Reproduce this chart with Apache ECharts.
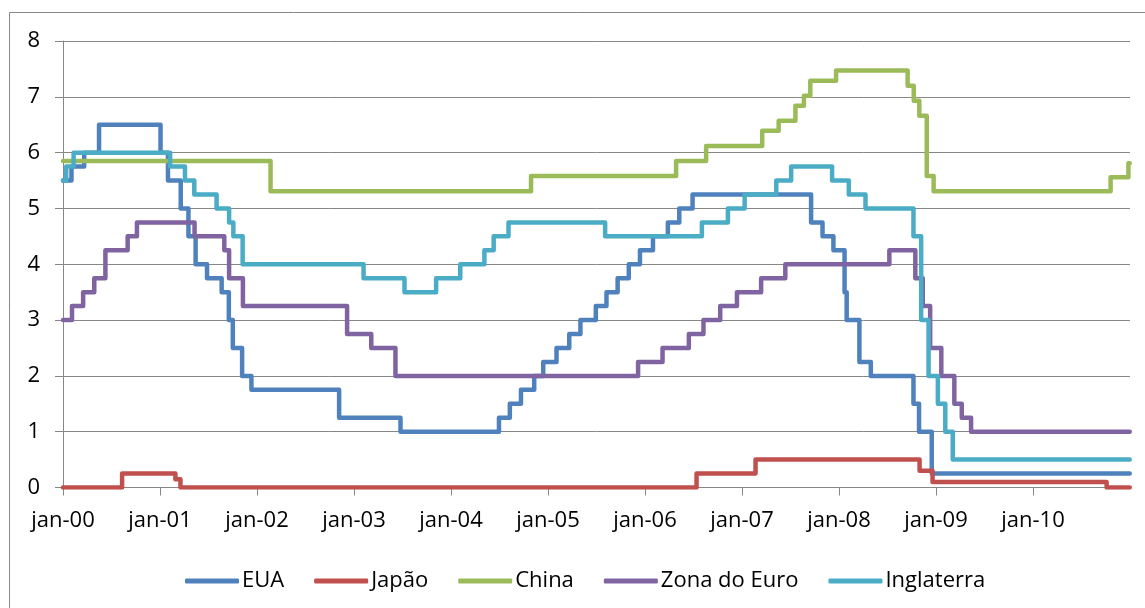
<!DOCTYPE html>
<html>
<head>
<meta charset="utf-8">
<script src="https://cdn.jsdelivr.net/npm/echarts@6/dist/echarts.min.js"></script>
<style>
html,body{margin:0;padding:0;background:#fff;}
#c{width:1145px;height:608px;}
</style>
</head>
<body>
<div id="c"></div>
<script>
// Policy rates (%), change dates and values (value holds from date until next change)
const seriesNames = ['EUA', 'Japão', 'China', 'Zona do Euro', 'Inglaterra'];
const endDate = '2010-12-31';
const yearTicks = [2000, 2001, 2002, 2003, 2004, 2005, 2006, 2007, 2008, 2009, 2010];

const euaDates = ['2000-01-01','2000-02-02','2000-03-21','2000-05-16','2001-01-03','2001-01-31','2001-03-20','2001-04-18','2001-05-15','2001-06-27','2001-08-21','2001-09-17','2001-10-02','2001-11-06','2001-12-11','2002-11-06','2003-06-25','2004-06-30','2004-08-10','2004-09-21','2004-11-10','2004-12-14','2005-02-02','2005-03-22','2005-05-03','2005-06-30','2005-08-09','2005-09-20','2005-11-01','2005-12-13','2006-01-31','2006-03-28','2006-05-10','2006-06-29','2007-09-18','2007-10-31','2007-12-11','2008-01-22','2008-01-30','2008-03-18','2008-04-30','2008-10-08','2008-10-29','2008-12-16'];
const euaValues = [5.50,5.75,6.00,6.50,6.00,5.50,5.00,4.50,4.00,3.75,3.50,3.00,2.50,2.00,1.75,1.25,1.00,1.25,1.50,1.75,2.00,2.25,2.50,2.75,3.00,3.25,3.50,3.75,4.00,4.25,4.50,4.75,5.00,5.25,4.75,4.50,4.25,3.50,3.00,2.25,2.00,1.50,1.00,0.25];

const japaoDates = ['2000-01-01','2000-08-11','2001-02-28','2001-03-19','2006-07-14','2007-02-21','2008-10-31','2008-12-19','2010-10-05'];
const japaoValues = [0.00,0.25,0.15,0.00,0.25,0.50,0.30,0.10,0.00];

const chinaDates = ['2000-01-01','2002-02-21','2004-10-29','2006-04-28','2006-08-19','2007-03-18','2007-05-19','2007-07-21','2007-08-22','2007-09-15','2007-12-21','2008-09-16','2008-10-09','2008-10-30','2008-11-27','2008-12-23','2010-10-20','2010-12-26'];
const chinaValues = [5.85,5.31,5.58,5.85,6.12,6.39,6.57,6.84,7.02,7.29,7.47,7.20,6.93,6.66,5.58,5.31,5.56,5.81];

const euroDates = ['2000-01-01','2000-02-04','2000-03-17','2000-04-28','2000-06-09','2000-09-01','2000-10-06','2001-05-11','2001-08-31','2001-09-18','2001-11-09','2002-12-06','2003-03-07','2003-06-06','2005-12-06','2006-03-08','2006-06-15','2006-08-09','2006-10-11','2006-12-13','2007-03-14','2007-06-13','2008-07-09','2008-10-15','2008-11-12','2008-12-10','2009-01-21','2009-03-11','2009-04-08','2009-05-13'];
const euroValues = [3.00,3.25,3.50,3.75,4.25,4.50,4.75,4.50,4.25,3.75,3.25,2.75,2.50,2.00,2.25,2.50,2.75,3.00,3.25,3.50,3.75,4.00,4.25,3.75,3.25,2.50,2.00,1.50,1.25,1.00];

const inglaterraDates = ['2000-01-01','2000-01-13','2000-02-10','2001-02-08','2001-04-05','2001-05-10','2001-08-02','2001-09-18','2001-10-04','2001-11-08','2003-02-06','2003-07-10','2003-11-06','2004-02-05','2004-05-06','2004-06-10','2004-08-05','2005-08-04','2006-08-03','2006-11-09','2007-01-11','2007-05-10','2007-07-05','2007-12-06','2008-02-07','2008-04-10','2008-10-08','2008-11-06','2008-12-04','2009-01-08','2009-02-05','2009-03-05'];
const inglaterraValues = [5.50,5.75,6.00,5.75,5.50,5.25,5.00,4.75,4.50,4.00,3.75,3.50,3.75,4.00,4.25,4.50,4.75,4.50,4.75,5.00,5.25,5.50,5.75,5.50,5.25,5.00,4.50,3.00,2.00,1.50,1.00,0.50];

const colors = ['#4F81BD', '#C0504D', '#9BBB59', '#8064A2', '#4BACC6'];

function toYear(s) {
  const p = s.split('-').map(Number);
  const t = Date.UTC(p[0], p[1] - 1, p[2]);
  const t0 = Date.UTC(p[0], 0, 1), t1 = Date.UTC(p[0] + 1, 0, 1);
  return p[0] + (t - t0) / (t1 - t0);
}
function build(dates, values) {
  const out = dates.map((d, i) => [toYear(d), values[i]]);
  out.push([toYear(endDate), values[values.length - 1]]);
  return out;
}
const allData = [
  build(euaDates, euaValues),
  build(japaoDates, japaoValues),
  build(chinaDates, chinaValues),
  build(euroDates, euroValues),
  build(inglaterraDates, inglaterraValues)
];

const FONT = 'Open Sans';
const GRAY = '#878787';

const chart = echarts.init(document.getElementById('c'), null, {renderer: 'canvas'});
chart.setOption({
  animation: false,
  backgroundColor: '#ffffff',
  textStyle: {fontFamily: FONT},
  graphic: [{
    type: 'rect',
    shape: {x: 9.5, y: 12.5, width: 1200, height: 700},
    style: {fill: 'none', stroke: GRAY, lineWidth: 1},
    silent: true
  }],
  grid: {left: 63, right: 15, top: 41, bottom: 120.5, containLabel: false},
  legend: {
    left: 180, top: 565,
    itemWidth: 54, itemHeight: 5, itemGap: 30,
    icon: 'roundRect',
    textStyle: {fontFamily: FONT, fontSize: 22, color: '#000', padding: [0, 0, 0, -2]},
    data: seriesNames
  },
  xAxis: {
    type: 'value', min: 2000, max: 2011,
    axisLine: {show: true, lineStyle: {color: GRAY, width: 1}},
    axisTick: {show: true, length: 8, lineStyle: {color: GRAY}, customValues: yearTicks},
    axisLabel: {
      customValues: yearTicks, margin: 22, fontSize: 22, color: '#000', fontFamily: FONT,
      formatter: v => 'jan-' + String(Math.round(v) % 100).padStart(2, '0')
    },
    splitLine: {show: false}
  },
  yAxis: {
    type: 'value', min: 0, max: 8, interval: 1,
    axisLine: {show: true, lineStyle: {color: GRAY, width: 1}},
    axisTick: {show: true, length: 8, lineStyle: {color: GRAY}},
    axisLabel: {margin: 23, fontSize: 22, color: '#000', fontFamily: FONT},
    splitLine: {show: true, lineStyle: {color: GRAY, width: 1}}
  },
  series: seriesNames.map((n, i) => ({
    name: n, type: 'line', step: 'end', data: allData[i],
    symbol: 'none', showSymbol: false,
    itemStyle: {color: colors[i]},
    lineStyle: {color: colors[i], width: 4.5, cap: 'round', join: 'round'}
  }))
});
</script>
</body>
</html>
